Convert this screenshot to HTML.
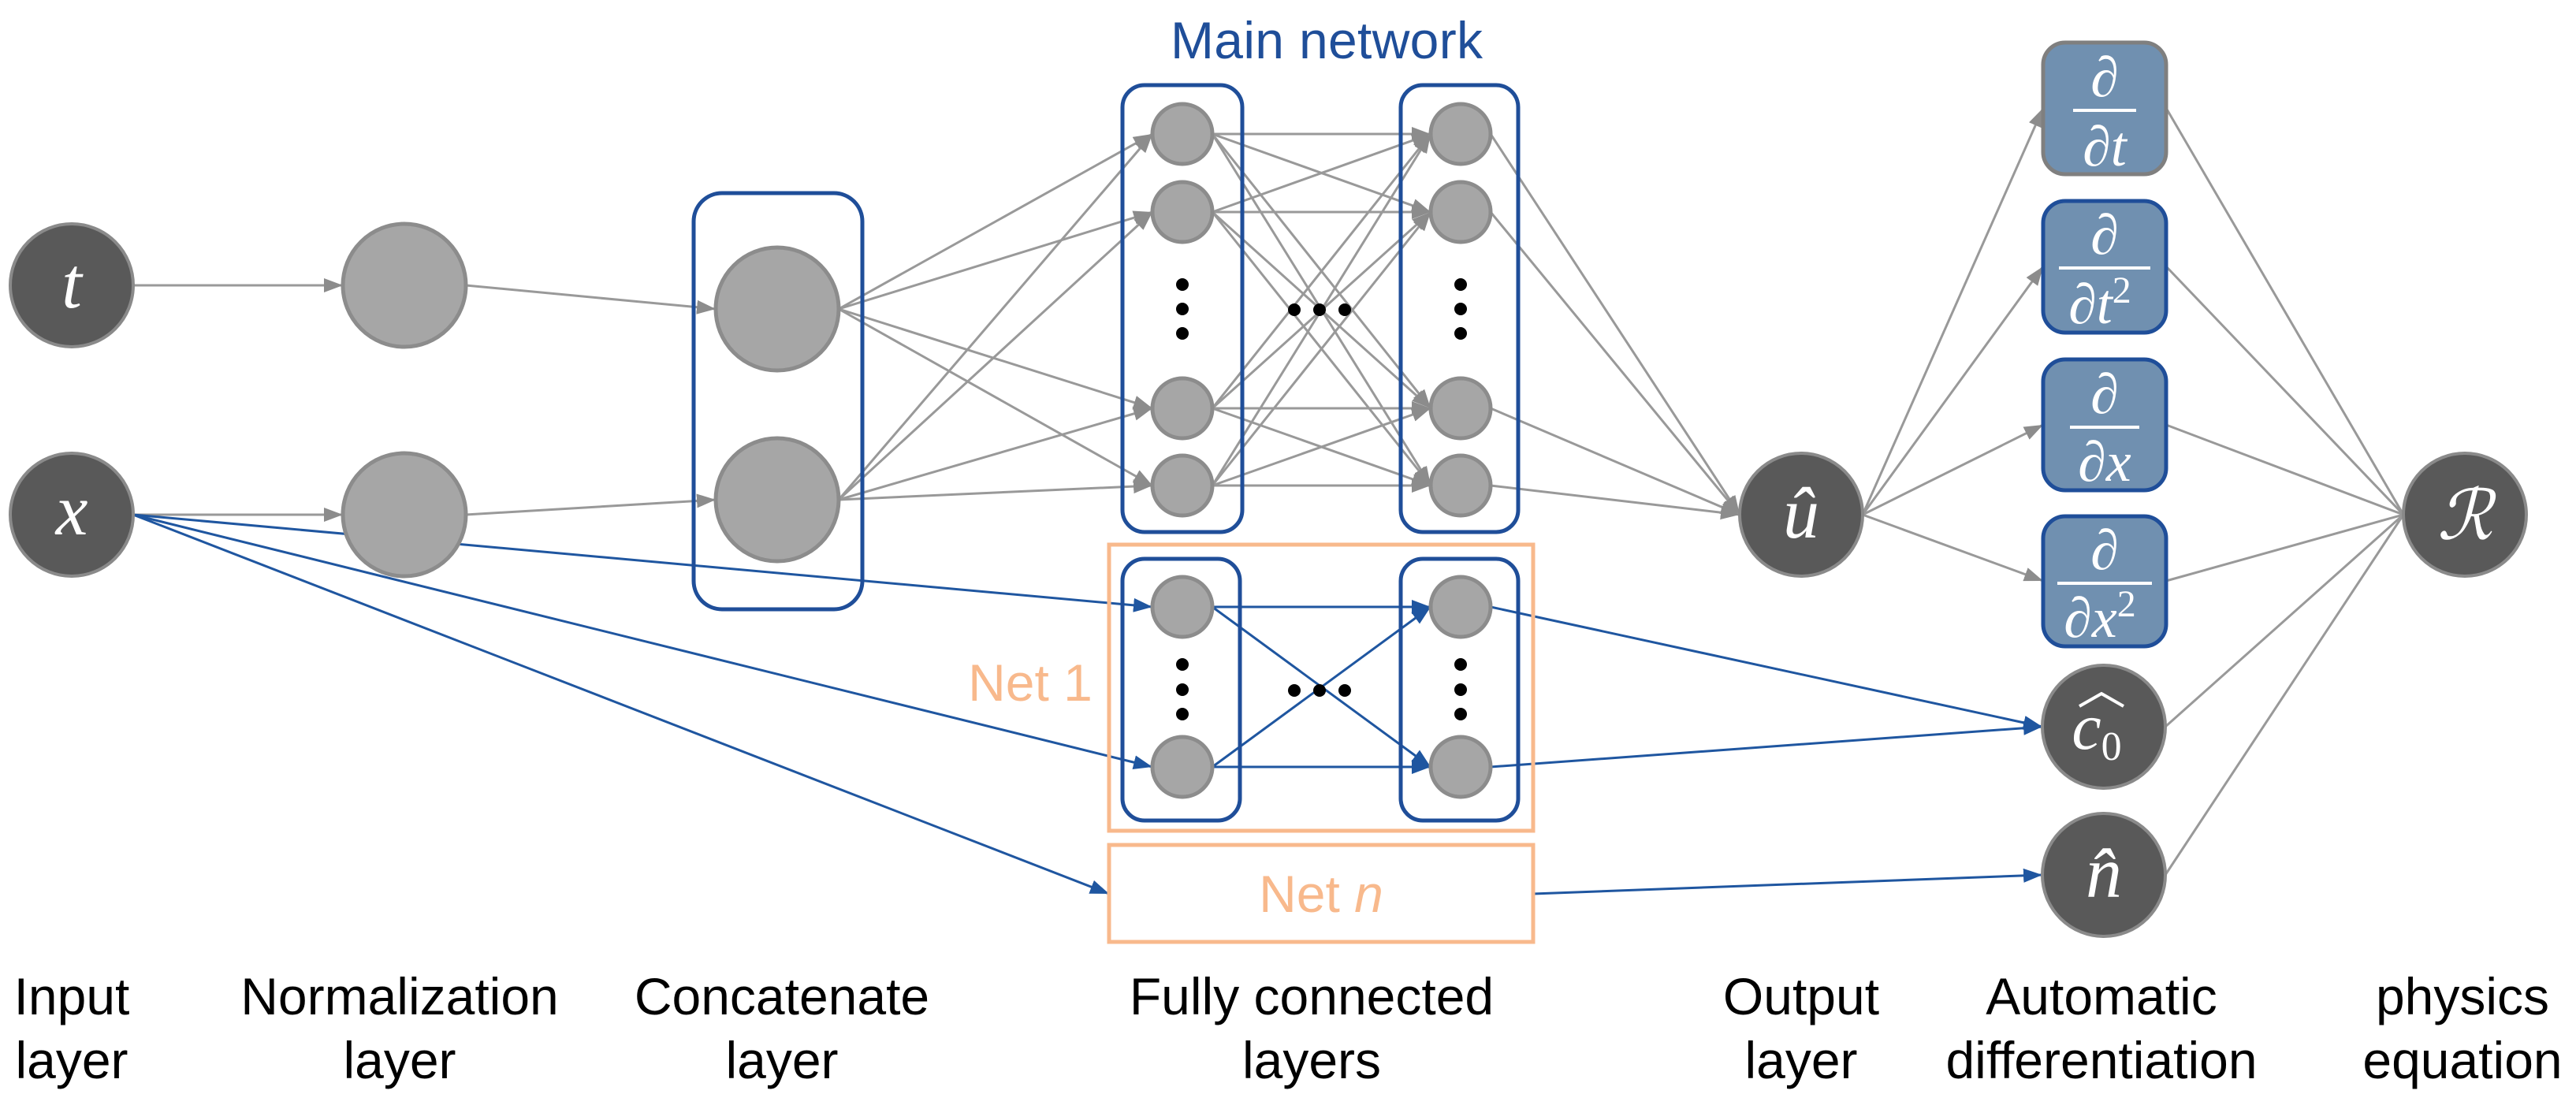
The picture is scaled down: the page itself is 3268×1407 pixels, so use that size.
<!DOCTYPE html>
<html><head><meta charset="utf-8"><style>
html,body{margin:0;padding:0;background:#fff;width:3268px;height:1407px;overflow:hidden}
svg{display:block}
.lbl{font-family:"Liberation Sans",sans-serif;font-size:66px;fill:#000;text-anchor:middle}
.m{font-family:"Liberation Serif","DejaVu Serif",serif;font-style:italic;fill:#fff;text-anchor:middle}
</style></head><body>
<svg id="s" width="3268" height="1407" viewBox="0 0 3268 1407" xmlns="http://www.w3.org/2000/svg">
<defs>
<marker id="ag" markerUnits="userSpaceOnUse" markerWidth="26" markerHeight="22" refX="24" refY="11" orient="auto"><path d="M0,2 L24,11 L0,20 Z" fill="#8c8c8c"/></marker>
<marker id="ab" markerUnits="userSpaceOnUse" markerWidth="26" markerHeight="22" refX="24" refY="11" orient="auto"><path d="M0,2 L24,11 L0,20 Z" fill="#1f56a0"/></marker>
</defs>
<g id="edges"></g>
<rect x="880" y="245" width="214" height="528" rx="36" fill="none" stroke="#1f4e99" stroke-width="5"/>
<rect x="1424" y="108" width="152" height="567" rx="28" fill="none" stroke="#1f4e99" stroke-width="5"/>
<rect x="1777" y="108" width="149" height="567" rx="28" fill="none" stroke="#1f4e99" stroke-width="5"/>
<rect x="1407" y="691" width="538" height="363" fill="none" stroke="#f8b98c" stroke-width="5"/>
<rect x="1424" y="709" width="149" height="332" rx="28" fill="none" stroke="#1f4e99" stroke-width="5"/>
<rect x="1777" y="709" width="149" height="332" rx="28" fill="none" stroke="#1f4e99" stroke-width="5"/>
<rect x="1407" y="1072" width="538" height="123" fill="none" stroke="#f8b98c" stroke-width="5"/>
<text x="1683" y="74" font-family="Liberation Sans,sans-serif" font-size="66" fill="#1f4e99" text-anchor="middle" textLength="396">Main network</text>
<text x="1307" y="889" font-family="Liberation Sans,sans-serif" font-size="66" fill="#f8b98c" text-anchor="middle">Net 1</text>
<text x="1676" y="1157" font-family="Liberation Sans,sans-serif" font-size="66" fill="#f8b98c" text-anchor="middle">Net <tspan font-style="italic">n</tspan></text>
<g id="nodes"></g>
<g fill="#000">
<circle cx="1500" cy="361" r="8"/><circle cx="1500" cy="392" r="8"/><circle cx="1500" cy="423" r="8"/>
<circle cx="1853" cy="361" r="8"/><circle cx="1853" cy="392" r="8"/><circle cx="1853" cy="423" r="8"/>
<circle cx="1500" cy="843" r="8"/><circle cx="1500" cy="875" r="8"/><circle cx="1500" cy="906" r="8"/>
<circle cx="1853" cy="843" r="8"/><circle cx="1853" cy="875" r="8"/><circle cx="1853" cy="906" r="8"/>
<circle cx="1642" cy="393" r="8"/><circle cx="1674" cy="393" r="8"/><circle cx="1706" cy="393" r="8"/>
<circle cx="1642" cy="876" r="8"/><circle cx="1674" cy="876" r="8"/><circle cx="1706" cy="876" r="8"/>
</g>
<rect x="2592" y="54" width="156" height="167" rx="28" fill="#7090b0" stroke="#7f7f7f" stroke-width="5"/>
<rect x="2592" y="255" width="156" height="167" rx="28" fill="#7090b0" stroke="#1f4e99" stroke-width="5"/>
<rect x="2592" y="456" width="156" height="166" rx="28" fill="#7090b0" stroke="#1f4e99" stroke-width="5"/>
<rect x="2592" y="655" width="156" height="165" rx="28" fill="#7090b0" stroke="#1f4e99" stroke-width="5"/>
<g class="m" font-size="72">
<text x="2670" y="122">∂</text><line x1="2630" y1="140" x2="2710" y2="140" stroke="#fff" stroke-width="4"/><text x="2670" y="210">∂t</text>
<text x="2670" y="322">∂</text><line x1="2612" y1="340" x2="2728" y2="340" stroke="#fff" stroke-width="4"/><text x="2664" y="410">∂t<tspan font-size="48" dy="-26" font-style="normal">2</tspan></text>
<text x="2670" y="524">∂</text><line x1="2626" y1="542" x2="2714" y2="542" stroke="#fff" stroke-width="4"/><text x="2670" y="610">∂x</text>
<text x="2670" y="722">∂</text><line x1="2610" y1="740" x2="2730" y2="740" stroke="#fff" stroke-width="4"/><text x="2664" y="808">∂x<tspan font-size="48" dy="-26" font-style="normal">2</tspan></text>
</g>
<g class="m">
<text x="91" y="390" font-size="92">t</text>
<text x="91" y="678" font-size="92">x</text>
<text x="2285" y="682" font-size="92">û</text>
<text x="3127" y="684" font-size="88">ℛ</text>
<text x="2660" y="950" font-size="84">c<tspan font-size="52" dy="14" font-style="normal">0</tspan></text>
<path d="M2638,896 L2666,880 L2694,896" fill="none" stroke="#fff" stroke-width="4"/>
<text x="2669" y="1138" font-size="92">n̂</text>
</g>
<text class="lbl" x="91" y="1287">Input</text><text class="lbl" x="91" y="1368">layer</text>
<text class="lbl" x="507" y="1287">Normalization</text><text class="lbl" x="507" y="1368">layer</text>
<text class="lbl" x="992" y="1287">Concatenate</text><text class="lbl" x="992" y="1368">layer</text>
<text class="lbl" x="1664" y="1287">Fully connected</text><text class="lbl" x="1664" y="1368">layers</text>
<text class="lbl" x="2285" y="1287">Output</text><text class="lbl" x="2285" y="1368">layer</text>
<text class="lbl" x="2666" y="1287">Automatic</text><text class="lbl" x="2666" y="1368">differentiation</text>
<text class="lbl" x="3124" y="1287">physics</text><text class="lbl" x="3124" y="1368">equation</text>
</svg>
<script>
var NS="http://www.w3.org/2000/svg";
function el(p,t,a){var e=document.createElementNS(NS,t);for(var k in a)e.setAttribute(k,a[k]);document.getElementById(p).insertBefore(e,null);return e;}
function ln(x1,y1,x2,y2,blue,arrow){var a={x1:x1,y1:y1,x2:x2,y2:y2,stroke:blue?"#1f56a0":"#999",'stroke-width':3};if(arrow!==false)a['marker-end']=blue?"url(#ab)":"url(#ag)";el("edges","line",a);}
var R=78,r=38;
ln(91+R,362,513-R,362);ln(91+R,653,513-R,653);
ln(513+R,362,986-R,392);ln(513+R,653,986-R,634);
var c1=[170,269,518,616];
[392,634].forEach(function(y){c1.forEach(function(t){ln(986+R,y,1500-r,t);});});
c1.forEach(function(y){c1.forEach(function(t){ln(1500+r,y,1853-r,t);});});
c1.forEach(function(y){ln(1853+r,y,2285-R,653);});
[137,338,539,737].forEach(function(y){ln(2285+R,653,2592,y);ln(2748,y,3127-R,653,false,false);});
ln(2669+R,922,3127-R,653,false,false);ln(2669+R,1110,3127-R,653,false,false);
ln(169,653,1500-r,770,true);ln(169,653,1500-r,973,true);ln(169,653,1407,1134,true);
[770,973].forEach(function(y){[770,973].forEach(function(t){ln(1500+r,y,1853-r,t,true);});});
ln(1853+r,770,2669-R,922,true);ln(1853+r,973,2669-R,922,true);
ln(1945,1134,2669-R,1110,true);
function dn(x,y){el("nodes","circle",{cx:x,cy:y,r:R,fill:"#595959",stroke:"#8a8a8a","stroke-width":4});}
function gn(x,y,rr){el("nodes","circle",{cx:x,cy:y,r:rr,fill:"#a6a6a6",stroke:"#8c8c8c","stroke-width":5});}
dn(91,362);dn(91,653);dn(2285,653);dn(3127,653);dn(2669,922);dn(2669,1110);
gn(513,362,R);gn(513,653,R);gn(986,392,R);gn(986,634,R);
c1.forEach(function(y){gn(1500,y,r);gn(1853,y,r);});
[770,973].forEach(function(y){gn(1500,y,r);gn(1853,y,r);});
</script>
</body></html>
